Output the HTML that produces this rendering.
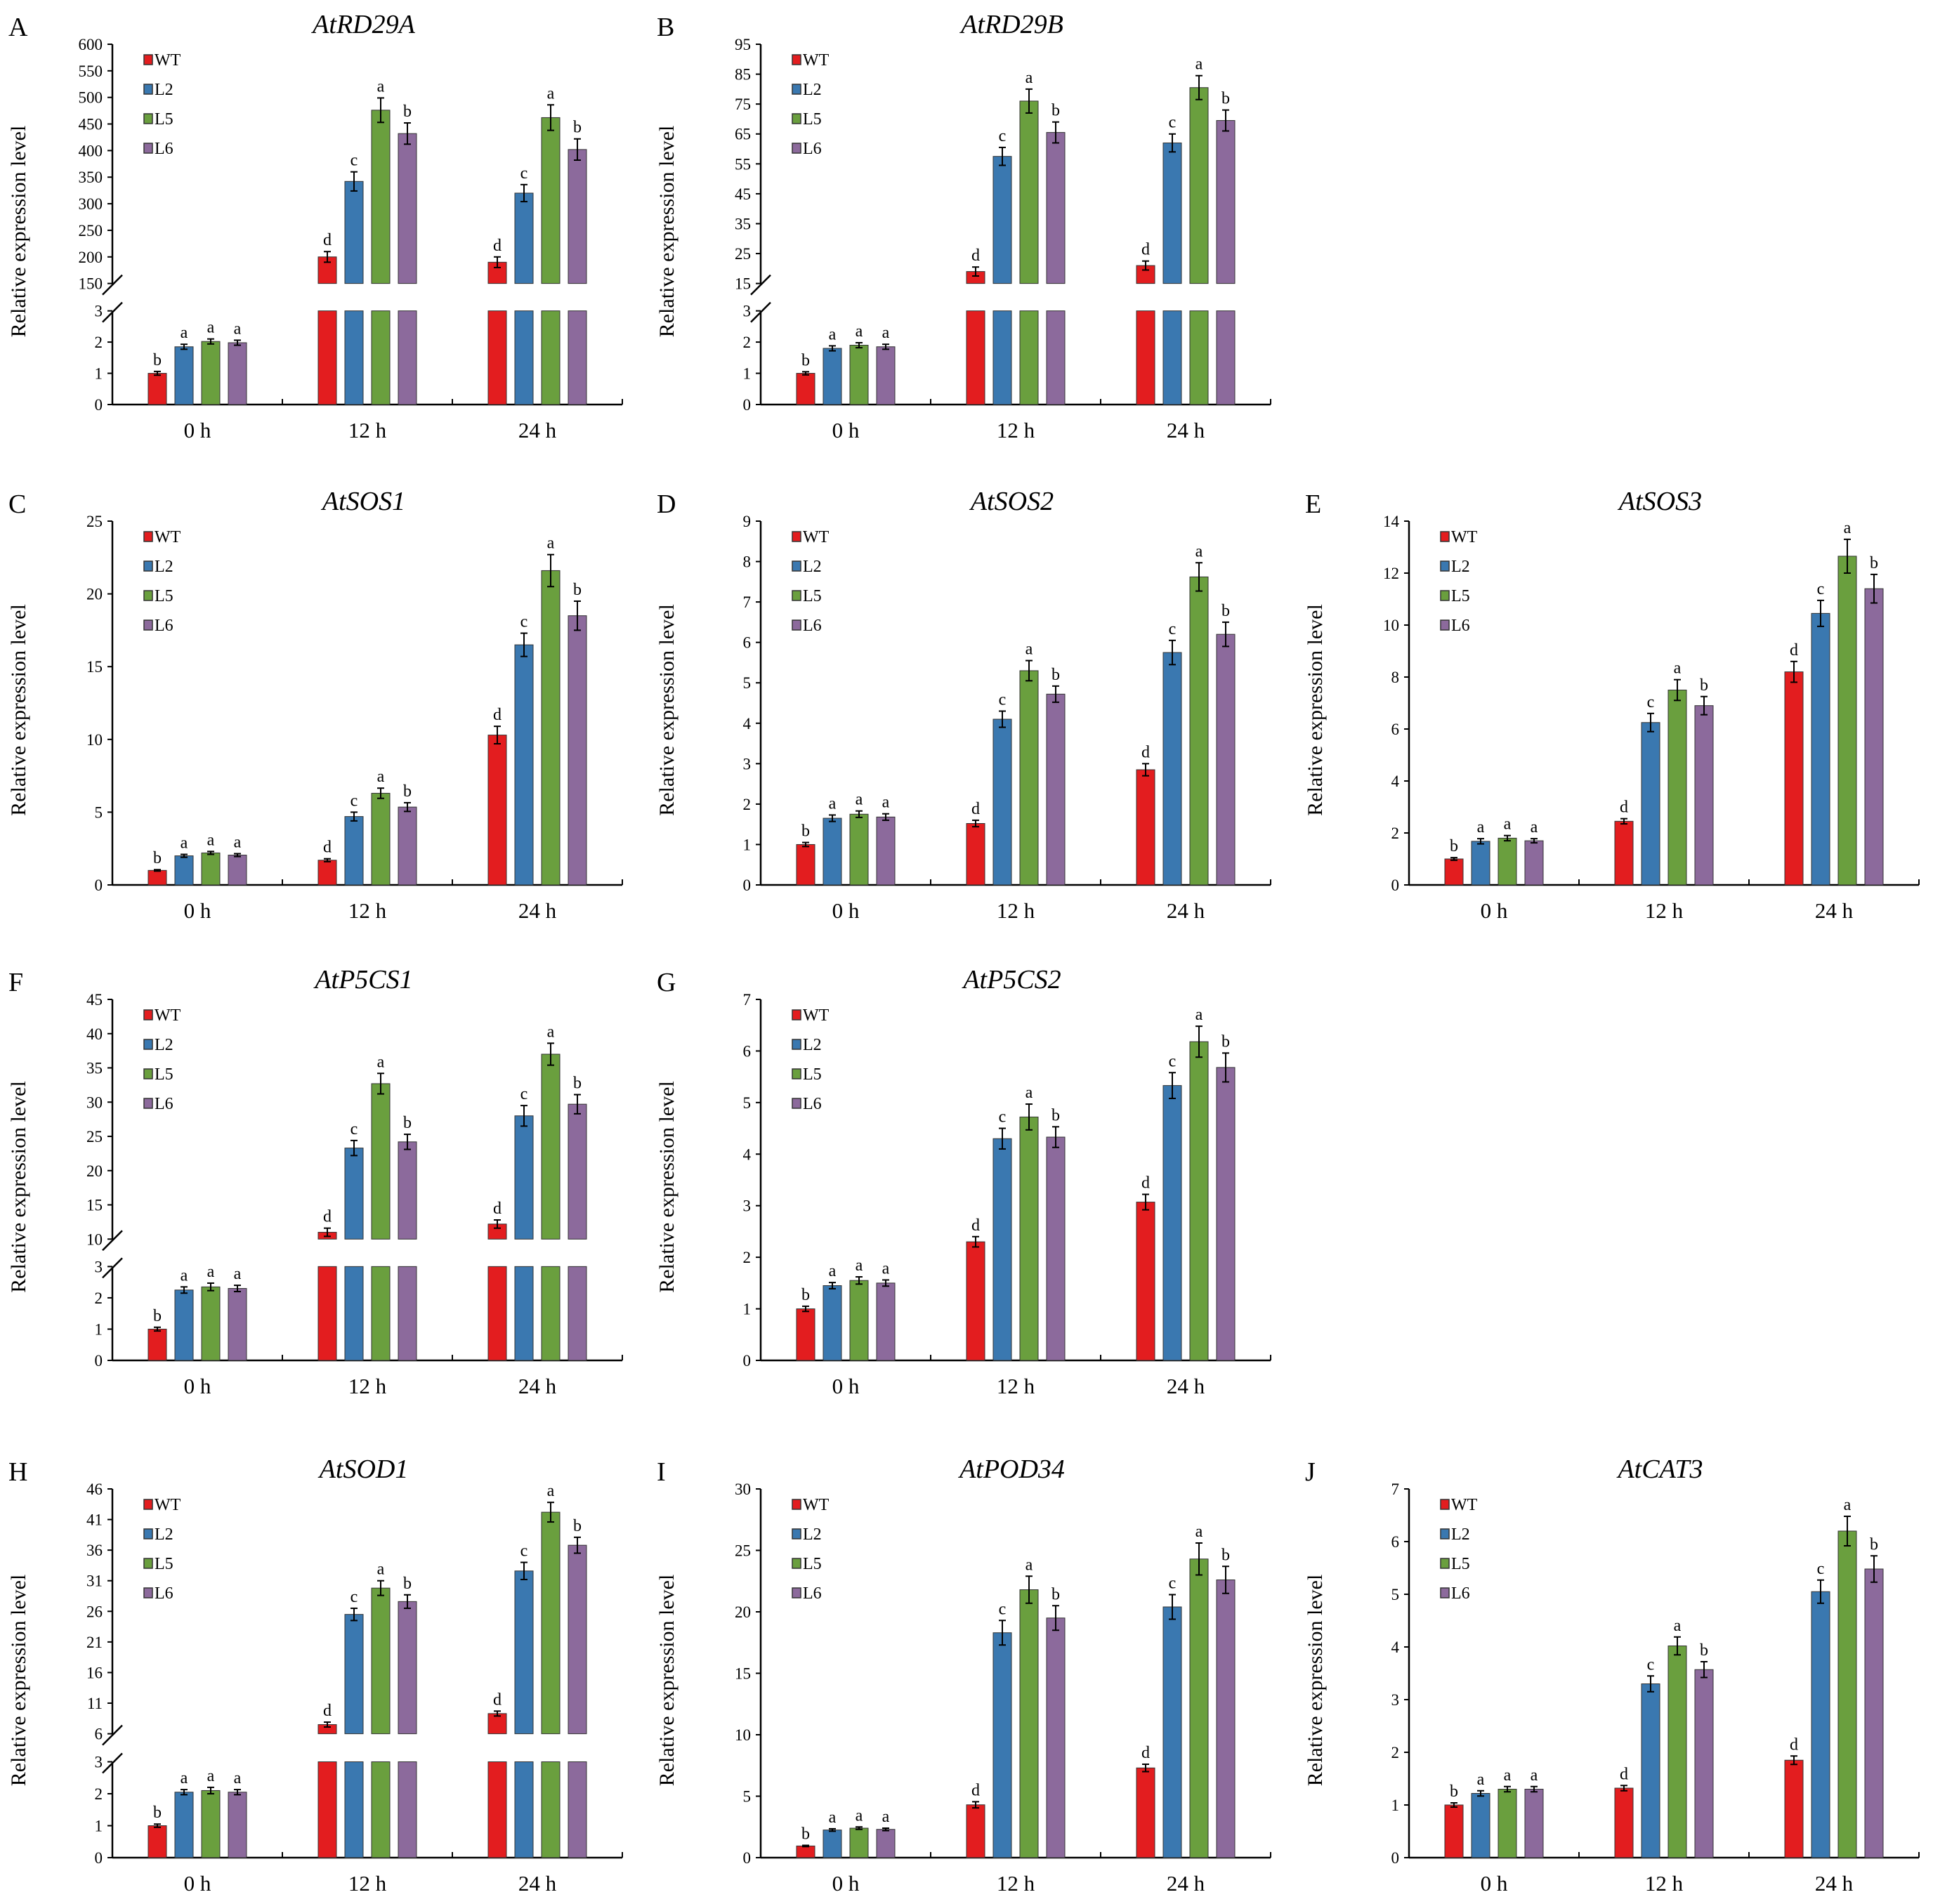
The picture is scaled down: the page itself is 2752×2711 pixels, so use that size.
<!DOCTYPE html>
<html><head><meta charset="utf-8"><style>
html,body{margin:0;padding:0;background:#fff}
svg{display:block;font-family:"Liberation Serif","Times New Roman",serif}
</style></head><body>
<svg id="fig" width="2752" height="2711" viewBox="0 0 2752 2711" xmlns="http://www.w3.org/2000/svg"></svg>
<script>
const categories = ["0 h","12 h","24 h"];
const seriesNames = ["WT","L2","L5","L6"];
const seriesColors = ["#e31d1f","#3a78b0","#6a9f3e","#8c6a9c"];

const valsA = [[1,1.85,2.02,1.98],[200,342,476,432],[190,320,462,402]];
const errsA = [[0.06,0.08,0.08,0.08],[10,18,23,20],[10,16,24,20]];
const letA  = [["b","a","a","a"],["d","c","a","b"],["d","c","a","b"]];
const valsB = [[1,1.8,1.9,1.85],[19,57.5,76,65.5],[21,62,80.5,69.5]];
const errsB = [[0.05,0.08,0.08,0.08],[1.5,3,4,3.5],[1.5,3,4,3.5]];
const letB  = letA;
const valsC = [[1,2,2.2,2.05],[1.7,4.7,6.3,5.35],[10.3,16.5,21.6,18.5]];
const errsC = [[0.05,0.1,0.1,0.1],[0.1,0.3,0.35,0.3],[0.6,0.8,1.1,1]];
const valsD = [[1,1.65,1.75,1.68],[1.52,4.1,5.3,4.72],[2.85,5.75,7.62,6.2]];
const errsD = [[0.05,0.08,0.08,0.08],[0.08,0.2,0.25,0.2],[0.15,0.3,0.35,0.3]];
const valsE = [[1,1.68,1.8,1.7],[2.45,6.25,7.5,6.9],[8.2,10.45,12.65,11.4]];
const errsE = [[0.05,0.1,0.1,0.08],[0.1,0.35,0.4,0.35],[0.4,0.5,0.65,0.55]];
const valsF = [[1,2.25,2.35,2.3],[11,23.3,32.7,24.2],[12.2,28,37,29.7]];
const errsF = [[0.06,0.1,0.12,0.1],[0.6,1.1,1.5,1.1],[0.6,1.5,1.6,1.4]];
const valsG = [[1,1.45,1.55,1.5],[2.3,4.3,4.72,4.33],[3.07,5.33,6.18,5.68]];
const errsG = [[0.05,0.06,0.07,0.06],[0.1,0.2,0.25,0.2],[0.15,0.25,0.3,0.28]];
const valsH = [[1,2.05,2.1,2.05],[7.5,25.5,29.8,27.6],[9.3,32.6,42.2,36.8]];
const errsH = [[0.05,0.08,0.1,0.08],[0.4,1,1.2,1.1],[0.4,1.4,1.6,1.3]];
const valsI = [[0.95,2.25,2.4,2.3],[4.3,18.3,21.8,19.5],[7.3,20.4,24.3,22.6]];
const errsI = [[0.05,0.1,0.1,0.1],[0.25,1,1.1,1],[0.3,1,1.3,1.1]];
const valsJ = [[1,1.22,1.3,1.3],[1.32,3.3,4.02,3.57],[1.85,5.05,6.2,5.48]];
const errsJ = [[0.04,0.05,0.05,0.05],[0.05,0.15,0.17,0.15],[0.08,0.22,0.28,0.25]];
const letStd = [["b","a","a","a"],["d","c","a","b"],["d","c","a","b"]];

const ticksA = [150,200,250,300,350,400,450,500,550,600];
const ticksB = [15,25,35,45,55,65,75,85,95];
const ticksC = [0,5,10,15,20,25];
const ticksD = [0,1,2,3,4,5,6,7,8,9];
const ticksE = [0,2,4,6,8,10,12,14];
const ticksF = [10,15,20,25,30,35,40,45];
const ticksG = [0,1,2,3,4,5,6,7];
const ticksH = [6,11,16,21,26,31,36,41,46];
const ticksI = [0,5,10,15,20,25,30];
const ticksJ = [0,1,2,3,4,5,6,7];
const lowTicks = [0,1,2,3];

const panels = [
 {id:"A",title:"AtRD29A",col:0,row:0,vals:valsA,errs:errsA,lets:letA,ticks:ticksA,broken:true},
 {id:"B",title:"AtRD29B",col:1,row:0,vals:valsB,errs:errsB,lets:letB,ticks:ticksB,broken:true},
 {id:"C",title:"AtSOS1",col:0,row:1,vals:valsC,errs:errsC,lets:letStd,ticks:ticksC},
 {id:"D",title:"AtSOS2",col:1,row:1,vals:valsD,errs:errsD,lets:letStd,ticks:ticksD},
 {id:"E",title:"AtSOS3",col:2,row:1,vals:valsE,errs:errsE,lets:letStd,ticks:ticksE},
 {id:"F",title:"AtP5CS1",col:0,row:2,vals:valsF,errs:errsF,lets:letStd,ticks:ticksF,broken:true},
 {id:"G",title:"AtP5CS2",col:1,row:2,vals:valsG,errs:errsG,lets:letStd,ticks:ticksG},
 {id:"H",title:"AtSOD1",col:0,row:3,vals:valsH,errs:errsH,lets:letStd,ticks:ticksH,broken:true},
 {id:"I",title:"AtPOD34",col:1,row:3,vals:valsI,errs:errsI,lets:letStd,ticks:ticksI},
 {id:"J",title:"AtCAT3",col:2,row:3,vals:valsJ,errs:errsJ,lets:letStd,ticks:ticksJ}
];

const colLeft=[160,1083,2006], axW=726;
const rowTop=[63,742,1423,2120], rowZero=[576,1260,1937,2645];
const NS="http://www.w3.org/2000/svg";
const svg=document.getElementById('fig');
function mk(tag,attrs,parent,text){const e=document.createElementNS(NS,tag);for(const k in attrs)e.setAttribute(k,attrs[k]);if(text!==undefined)e.textContent=text;parent.appendChild(e);return e;}

panels.forEach(p=>{
 const g=mk('g',{},svg);
 
 
 const L=colLeft[p.col], R=L+axW, T=rowTop[p.row], Z=rowZero[p.row], H=Z-T;
 let yU, yL, upBot, lowTop;
 const tmin=p.ticks[0], tmax=p.ticks[p.ticks.length-1];
 if(p.broken){
  upBot=T+0.664*H; lowTop=T+0.74*H;
  yU=v=>upBot-(v-tmin)/(tmax-tmin)*(upBot-T);
  yL=v=>Z-v/3*(Z-lowTop);
 } else {
  yU=v=>Z-v/tmax*H;
 }
 const pl=mk('text',{x:L-148,y:T-12,'font-size':38},g,p.id);
 
 
 const tt=mk('text',{x:L+axW/2-5,y:T-16,'font-size':38,'font-style':'italic','text-anchor':'middle'},g,p.title);
 
 
 const yt=mk('text',{x:0,y:0,'font-size':30,'text-anchor':'middle',transform:`translate(${L-124},${T+H/2+10}) rotate(-90)`},g,'Relative expression  level');
 
 
 if(p.broken){
  mk('line',{x1:L,y1:T,x2:L,y2:upBot,stroke:'#000','stroke-width':2.5},g);
  mk('line',{x1:L,y1:lowTop,x2:L,y2:Z,stroke:'#000','stroke-width':2.5},g);
  mk('line',{x1:L-14,y1:upBot+16,x2:L+14,y2:upBot-12,stroke:'#000','stroke-width':2.5},g);
  mk('line',{x1:L-14,y1:lowTop+16,x2:L+14,y2:lowTop-12,stroke:'#000','stroke-width':2.5},g);
  p.ticks.forEach(t=>{const y=yU(t);mk('line',{x1:L-7,y1:y,x2:L,y2:y,stroke:'#000','stroke-width':2},g);
   const tl=mk('text',{x:L-14,y:y+8,'font-size':23,'text-anchor':'end'},g,t);
   
   });
  lowTicks.forEach(t=>{const y=yL(t);mk('line',{x1:L-7,y1:y,x2:L,y2:y,stroke:'#000','stroke-width':2},g);
   const tl=mk('text',{x:L-14,y:y+8,'font-size':23,'text-anchor':'end'},g,t);
   
   });
 } else {
  mk('line',{x1:L,y1:T,x2:L,y2:Z,stroke:'#000','stroke-width':2.5},g);
  p.ticks.forEach(t=>{const y=yU(t);mk('line',{x1:L-7,y1:y,x2:L,y2:y,stroke:'#000','stroke-width':2},g);
   const tl=mk('text',{x:L-14,y:y+8,'font-size':23,'text-anchor':'end'},g,t);
   
   });
 }
 mk('line',{x1:L,y1:Z,x2:R,y2:Z,stroke:'#000','stroke-width':2.5},g);
 for(let k=1;k<=3;k++){const x=L+k*axW/3;mk('line',{x1:x,y1:Z-8,x2:x,y2:Z,stroke:'#000','stroke-width':2},g);}
 categories.forEach((c,ci)=>{
  const gc=L+(ci+0.5)*axW/3;
  const cl=mk('text',{x:gc,y:Z+47,'font-size':31,'text-anchor':'middle'},g,c);
  
  
  seriesNames.forEach((s,si)=>{
   const v=p.vals[ci][si], e=p.errs[ci][si];
   const cx=gc+(si-1.5)*38, bw=26;
   const segs=[];
   if(p.broken){
    if(v<=3){segs.push([yL(v),Z]);}
    else{segs.push([lowTop,Z]);segs.push([yU(Math.max(v,tmin)),upBot]);}
   } else segs.push([yU(v),Z]);
   segs.forEach(sg=>{
    const r=mk('rect',{x:cx-bw/2,y:sg[0],width:bw,height:Math.max(0,sg[1]-sg[0]),fill:seriesColors[si],stroke:'#333','stroke-width':1},g);
    
    
   });
   const yf=p.broken?(v<=3?yL:yU):yU;
   const yTop=yf(v+e), yBot=yf(v-e);
   mk('line',{x1:cx,y1:yTop,x2:cx,y2:yBot,stroke:'#000','stroke-width':2},g);
   mk('line',{x1:cx-5,y1:yTop,x2:cx+5,y2:yTop,stroke:'#000','stroke-width':2},g);
   mk('line',{x1:cx-5,y1:yBot,x2:cx+5,y2:yBot,stroke:'#000','stroke-width':2},g);
   const lt=mk('text',{x:cx,y:yTop-9,'font-size':24,'text-anchor':'middle'},g,p.lets[ci][si]);
   
   
  });
 });
 seriesNames.forEach((s,si)=>{
  const y=T+22+si*42;
  const lg=mk('g',{},g);
  
  
  mk('rect',{x:L+45,y:y-7,width:12,height:14,fill:seriesColors[si],stroke:'#333','stroke-width':1.5},lg);
  mk('text',{x:L+60,y:y+8,'font-size':24},lg,s);
 });
});
</script>
</body></html>
